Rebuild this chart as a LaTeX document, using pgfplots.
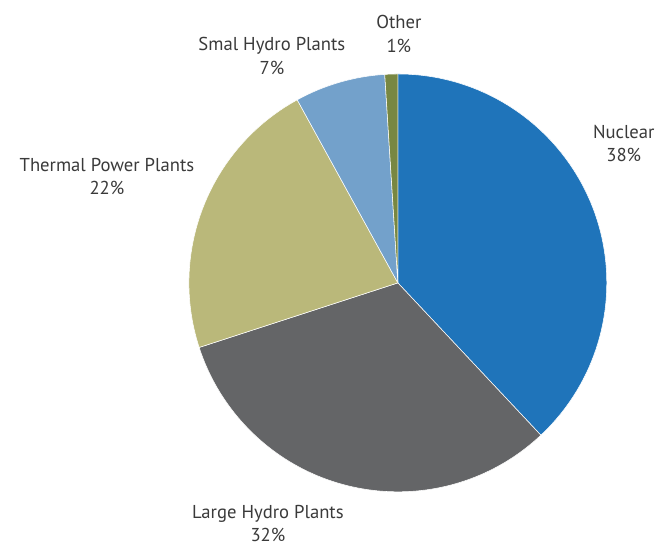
\documentclass[border=0pt]{standalone}
\usepackage{fontspec}
\setmainfont{PT Sans}
\usepackage{pgfplots}
\usepackage{pgfplotstable}
\pgfplotsset{compat=1.18}

\definecolor{cNuclear}{HTML}{1F74BA}
\definecolor{cLarge}{HTML}{646567}
\definecolor{cThermal}{HTML}{BAB87A}
\definecolor{cSmall}{HTML}{73A1CB}
\definecolor{cOther}{HTML}{788742}
\definecolor{txt}{HTML}{3A3A3A}

% share of each source, clockwise from the top
\pgfplotstableread{
pct col
38 cNuclear
32 cLarge
22 cThermal
7  cSmall
1  cOther
}\slices

\begin{document}
\begin{tikzpicture}
\begin{axis}[
    x=0.75pt, y=0.75pt,
    xmin=0, xmax=659, ymin=0, ymax=542,
    hide axis, clip=false,
  ]
  \path[draw=none] (axis cs:0,0) rectangle (axis cs:659,542);
  \xdef\cum{90}
  \pgfplotsinvokeforeach{0,...,4}{
    \pgfplotstablegetelem{#1}{pct}\of\slices
    \pgfmathsetmacro{\ea}{\cum-3.6*\pgfplotsretval}
    \pgfplotstablegetelem{#1}{col}\of\slices
    \edef\doslice{\noexpand\fill[\pgfplotsretval, draw=white, line width=0.4pt]
      (axis cs:398,259) -- ++(\cum:156.75pt)
      arc[start angle=\cum, end angle=\ea, radius=156.75pt] -- cycle;}
    \doslice
    \xdef\cum{\ea}
  }
  \begin{scope}[every node/.style={align=center, text=txt, font=\fontsize{14}{17.3}\selectfont}]
    \node at (axis cs:624,398) {Nuclear\\38\%};
    \node at (axis cs:268,18) {Large Hydro Plants\\32\%};
    \node at (axis cs:107,365) {Thermal Power Plants\\22\%};
    \node at (axis cs:272,486) {Smal Hydro Plants\\7\%};
    \node at (axis cs:399,508) {Other\\1\%};
  \end{scope}
\end{axis}
\end{tikzpicture}
\end{document}
